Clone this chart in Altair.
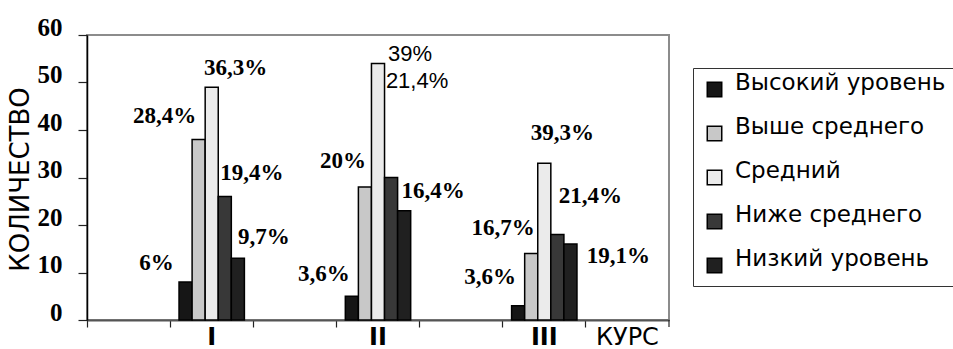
import altair as alt
import pandas as pd

# Axis slots along the x axis: empty slots separate the three courses,
# the last slot carries the axis caption.
slots = ["_a", "I", "_b", "II", "_c", "III", "КУРС"]
courses = ["I", "II", "III"]
levels = ["Высокий уровень", "Выше среднего", "Средний", "Ниже среднего", "Низкий уровень"]
level_colors = ["#161616", "#c8c8c8", "#ebebeb", "#383838", "#202020"]

# Number of students per level, one list per course
counts_I = [8, 38, 49, 26, 13]
counts_II = [5, 28, 54, 30, 23]
counts_III = [3, 14, 33, 18, 16]

# Percentage captions, one list per course
pct_I = ["6%", "28,4%", "36,3%", "19,4%", "9,7%"]
pct_II = ["3,6%", "20%", "39%", "21,4%", "16,4%"]
pct_III = ["3,6%", "16,7%", "39,3%", "21,4%", "19,1%"]

y_ticks = [0, 10, 20, 30, 40, 50, 60]

# Caption placement relative to the top of each bar (pixels) and caption style
label_nudge = [
    (-29, -19), (-34, -24), (24, -19), (27, -24), (26, -21),
    (-28, -22), (-22, -26), (32, -10), (26, -97), (29, -20),
    (-28, -29), (-28, -26), (18, -30), (33, -39), (48, 12),
]
label_style = [
    "serif", "serif", "serif", "serif", "serif",
    "serif", "serif", "sans", "sans", "serif",
    "serif", "serif", "serif", "serif", "serif",
]

rows = []
for course, cnts, pcts in [("I", counts_I, pct_I), ("II", counts_II, pct_II), ("III", counts_III, pct_III)]:
    for lvl, c, p in zip(levels, cnts, pcts):
        rows.append({"slot": course, "level": lvl, "count": c, "pct": p})
df = pd.DataFrame(rows)
df["idx"] = range(len(df))

W, H = 582, 285

x_enc = alt.X(
    "slot:N",
    scale=alt.Scale(domain=slots, paddingInner=0, paddingOuter=0),
    sort=slots,
    title=None,
    axis=alt.Axis(
        labelExpr="indexof(datum.value, '_') == 0 ? '' : datum.value",
        labelFont="DejaVu Sans",
        labelFontSize=24,
        labelFontWeight={"condition": {"test": "datum.value === 'КУРС'", "value": "normal"}, "value": "bold"},
        labelColor="black",
        labelAngle=0,
        labelPadding=-2,
        labelBaseline="top",
        bandPosition=0,
        tickSize=7,
        tickColor="#222",
        tickWidth=1.2,
        domainColor="#555",
        domainWidth=2,
        grid=False,
    ),
)
xoff_enc = alt.XOffset(
    "level:N",
    scale=alt.Scale(domain=levels, paddingInner=0, paddingOuter=0.68),
    sort=levels,
)
y_enc = alt.Y(
    "count:Q",
    scale=alt.Scale(domain=[0, 60], nice=False, zero=True),
    axis=alt.Axis(
        values=y_ticks,
        title="КОЛИЧЕСТВО",
        titleFont="DejaVu Sans",
        titleFontSize=26,
        titleFontWeight="normal",
        titleColor="black",
        titleAngle=270,
        titleAlign="center",
        titleBaseline="middle",
        titleX=-67,
        titleY=144,
        labelFont="Liberation Serif",
        labelFontSize=25,
        labelFontWeight="bold",
        labelColor="black",
        labelBaseline="alphabetic",
        labelPadding=16,
        labelFlush=False,
        labelOverlap=False,
        tickSize=9,
        tickColor="#222",
        tickWidth=1.2,
        domainColor="black",
        domainWidth=1.5,
        grid=False,
    ),
)

bars = alt.Chart(df).mark_bar(stroke="black", strokeWidth=1.5).encode(
    x=x_enc,
    xOffset=xoff_enc,
    y=y_enc,
    color=alt.Color(
        "level:N",
        scale=alt.Scale(domain=levels, range=level_colors),
        sort=levels,
        legend=alt.Legend(
            title=None,
            orient="none",
            legendX=606,
            legendY=33,
            direction="vertical",
            fillColor="white",
            strokeColor="#333",
            padding=10,
            symbolType="square",
            symbolSize=210,
            symbolStrokeColor="black",
            symbolStrokeWidth=1.5,
            symbolOpacity=1,
            labelFont="DejaVu Sans",
            labelFontSize=23,
            labelColor="black",
            labelBaseline="alphabetic",
            labelOffset=9,
            labelLimit=400,
            rowPadding=15,
        ),
    ),
)

layers = [bars]
for i, ((dx, dy), style) in enumerate(zip(label_nudge, label_style)):
    if style == "serif":
        mk = alt.Chart(df).mark_text(
            dx=dx, dy=dy, font="Liberation Serif", fontSize=23, fontWeight="bold",
            color="black", align="center", baseline="middle",
        )
    else:
        mk = alt.Chart(df).mark_text(
            dx=dx, dy=dy, font="Liberation Sans", fontSize=22, fontWeight="normal",
            color="black", align="center", baseline="middle",
        )
    layers.append(
        mk.transform_filter(alt.datum.idx == i).encode(
            x=alt.X("slot:N"), xOffset=alt.XOffset("level:N"), y=alt.Y("count:Q"), text="pct:N"
        )
    )

# closing tick at the right end of the category axis
end_tick = alt.Chart(pd.DataFrame({"k": [0]})).mark_rule(color="#222", strokeWidth=1.2).encode(
    x=alt.value(W), y=alt.value(H), y2=alt.value(H + 7)
)
layers.append(end_tick)

chart = alt.layer(*layers).properties(
    width=W,
    height=H,
    autosize=alt.AutoSizeParams(type="none"),
    padding={"left": 87, "top": 35, "right": 284, "bottom": 29},
    background="white",
).configure_view(stroke="#8c8c8c", strokeWidth=2)

chart.save("out.html", embed_options={"renderer": "svg", "actions": False})
